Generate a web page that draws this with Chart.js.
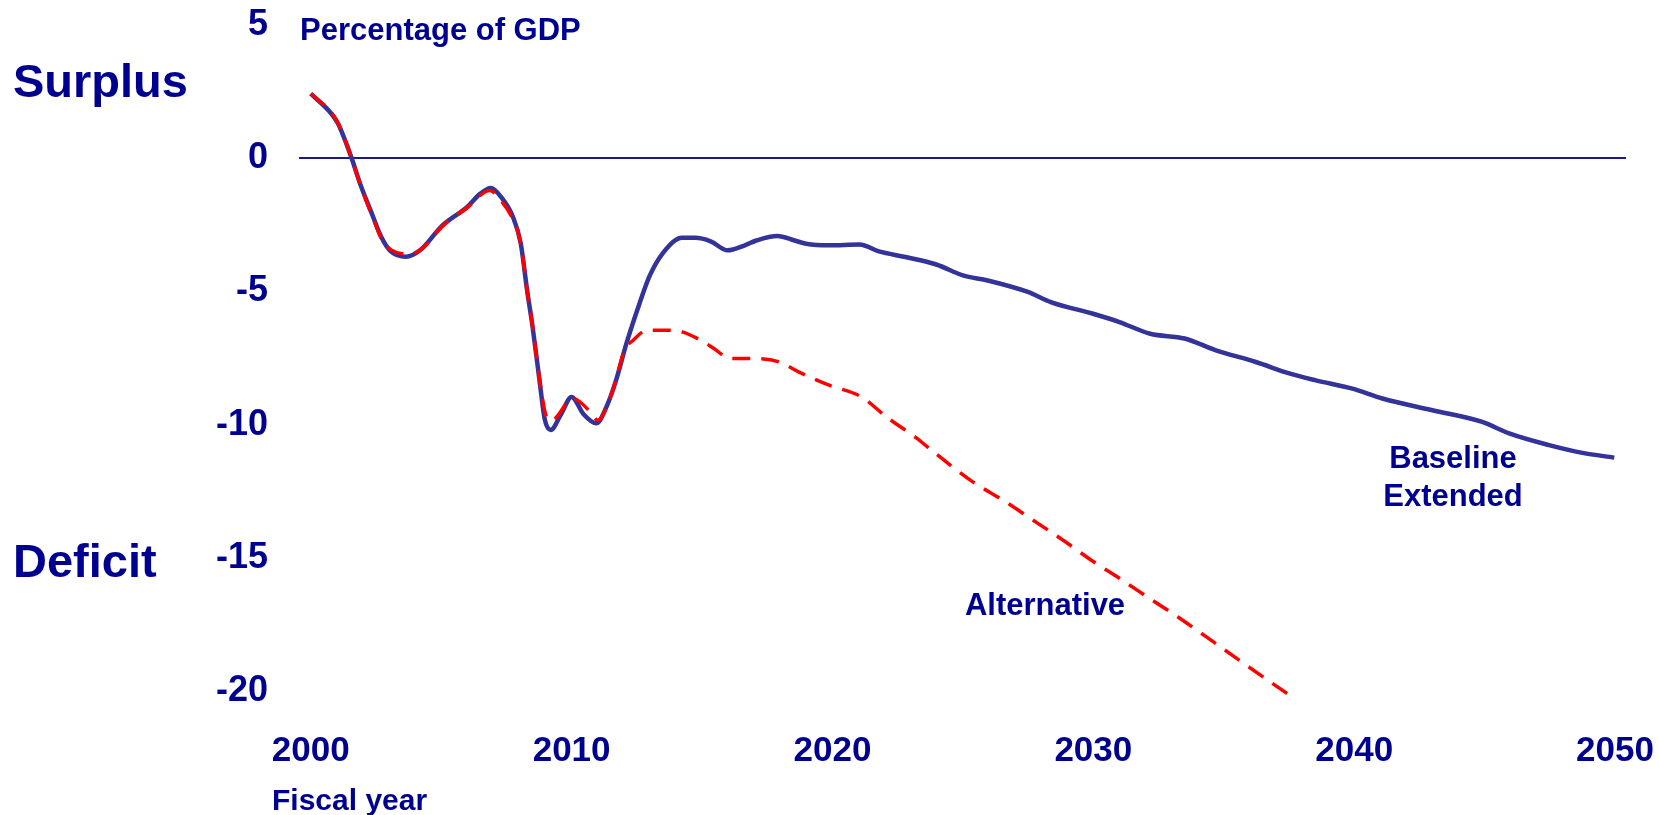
<!DOCTYPE html>
<html>
<head>
<meta charset="utf-8">
<script src="https://cdn.jsdelivr.net/npm/chart.js@4/dist/chart.umd.min.js"></script>
<style>
  html, body { margin: 0; padding: 0; background: #ffffff; }
  #wrap { position: relative; width: 1659px; height: 815px; }
</style>
</head>
<body>
<div id="wrap"><canvas id="deficitChart" width="1659" height="815"></canvas></div>
<script>
// fiscal years and % of GDP
var baselineYears = [2000, 2000.8, 2001.05, 2001.55, 2001.9, 2002.35, 2002.7, 2003.05, 2003.65, 2004.2,
  2005.05, 2006.0, 2006.5, 2006.9, 2007.3, 2007.75, 2008.05, 2008.3, 2008.5, 2008.77,
  2008.97, 2009.2, 2009.6, 2010.0, 2010.45, 2010.95, 2011.35, 2011.7, 2012.1, 2012.6,
  2013.0, 2013.5, 2014.23, 2014.74, 2015.33, 2015.98, 2016.64, 2017.08, 2017.89, 2018.55,
  2018.99, 2019.87, 2021.04, 2021.78, 2022.8, 2023.98, 2025.0, 2025.95, 2027.49, 2028.37,
  2029.99, 2031.0, 2032.18, 2033.5, 2034.7, 2036.23, 2037.51, 2038.53, 2039.93, 2041.08,
  2043.0, 2044.91, 2045.94, 2047.47, 2048.75, 2049.97];
var baselineValues = [2.42, 1.66, 1.29, 0.05, -0.98, -2.1, -2.95, -3.48, -3.7, -3.45,
  -2.52, -1.83, -1.33, -1.12, -1.46, -2.2, -3.2, -5.0, -6.3, -8.34,
  -9.8, -10.2, -9.6, -8.96, -9.6, -9.95, -9.3, -8.35, -6.96, -5.46,
  -4.4, -3.56, -2.99, -2.99, -3.12, -3.46, -3.27, -3.09, -2.92, -3.09,
  -3.21, -3.27, -3.24, -3.5, -3.71, -3.99, -4.4, -4.59, -5.02, -5.4,
  -5.84, -6.15, -6.59, -6.77, -7.21, -7.65, -8.08, -8.34, -8.65, -9.02,
  -9.46, -9.9, -10.33, -10.77, -11.06, -11.24];

var altYears = [2000, 2000.8, 2001.05, 2001.55, 2001.9, 2002.35, 2002.75, 2003.1, 2003.7, 2004.2,
  2005.05, 2006.0, 2006.86, 2007.3, 2007.75, 2008.05, 2008.3, 2008.5, 2008.77, 2009.0,
  2009.22, 2010.05, 2010.75, 2011.0, 2011.58, 2012.03, 2012.35, 2012.9, 2013.7, 2014.23,
  2014.96, 2015.47, 2016.06, 2017.08, 2017.97, 2018.7, 2019.87, 2021.11, 2022.07, 2023.24,
  2023.72, 2025.38, 2026.53, 2027.68, 2028.83, 2029.91, 2031.0, 2032.15, 2033.23, 2034.32,
  2035.4, 2036.49, 2037.51];
var altValues = [2.42, 1.7, 1.3, 0.05, -1.0, -2.15, -3.1, -3.45, -3.6, -3.45,
  -2.55, -1.85, -1.21, -1.6, -2.3, -3.2, -5.0, -6.3, -8.3, -9.6,
  -9.84, -9.02, -9.56, -9.84, -8.71, -7.2, -6.84, -6.46, -6.46, -6.52,
  -6.84, -7.15, -7.52, -7.52, -7.65, -8.02, -8.52, -8.96, -9.71, -10.52,
  -10.9, -12.15, -12.83, -13.58, -14.33, -15.08, -15.77, -16.52, -17.21, -17.96,
  -18.71, -19.46, -20.15];

var xTicks = [2000, 2010, 2020, 2030, 2040, 2050];
var yTicks = [5, 0, -5, -10, -15, -20];

function toPoints(xs, ys) {
  var pts = [];
  for (var i = 0; i < xs.length; i++) pts.push({ x: xs[i], y: ys[i] });
  return pts;
}

var navy = '#000090';
var FONT = '"Liberation Sans", Arial, sans-serif';

// free text on the canvas: side labels, unit note and series names
var textPlugin = {
  id: 'slideText',
  afterDraw: function (chart) {
    var c = chart.ctx;
    c.save();
    c.fillStyle = navy;
    c.textBaseline = 'alphabetic';
    c.textAlign = 'left';
    c.font = 'bold 47px ' + FONT;
    c.fillText('Surplus', 13, 97);
    c.fillText('Deficit', 13, 577);
    c.font = 'bold 31px ' + FONT;
    c.fillText('Percentage of GDP', 300, 40);
    c.font = 'bold 30px ' + FONT;
    c.fillText('Fiscal year', 272, 810);
    c.textAlign = 'center';
    c.font = 'bold 31px ' + FONT;
    c.fillText('Baseline', 1453, 468);
    c.fillText('Extended', 1453, 506);
    c.fillText('Alternative', 1045, 615);
    c.restore();
  }
};

// let the layout padding alone decide the plot edges
function noOverhang(scale) {
  scale.paddingTop = 0;
  scale.paddingBottom = 0;
  scale.paddingLeft = 0;
  scale.paddingRight = 0;
}

var ctx = document.getElementById('deficitChart');
var chart = new Chart(ctx, {
  type: 'line',
  data: {
    datasets: [
      {
        label: 'Alternative',
        data: toPoints(altYears, altValues),
        borderColor: '#ff0000',
        borderWidth: 3.5,
        borderDash: [18, 11],
        pointRadius: 0,
        fill: false,
        cubicInterpolationMode: 'monotone',
        clip: false,
        order: 0
      },
      {
        label: 'Baseline Extended',
        data: toPoints(baselineYears, baselineValues),
        borderColor: '#333399',
        borderWidth: 4.5,
        pointRadius: 0,
        fill: false,
        cubicInterpolationMode: 'monotone',
        order: 1
      }
    ]
  },
  options: {
    responsive: false,
    animation: false,
    layout: { padding: { top: 25, right: 33, bottom: 0, left: 0 } },
    plugins: {
      legend: { display: false },
      tooltip: { enabled: false }
    },
    scales: {
      x: {
        type: 'linear',
        min: 1999.55,
        max: 2050.42,
        afterBuildTicks: function (scale) {
          scale.ticks = xTicks.map(function (v) { return { value: v }; });
        },
        afterFit: function (scale) { scale.height = 124; noOverhang(scale); },
        grid: { display: false },
        border: { display: false },
        ticks: {
          padding: 31,
          color: navy,
          maxRotation: 0,
          autoSkip: false,
          font: { family: FONT, size: 35, weight: 'bold' },
          callback: function (v) { return String(v); }
        }
      },
      y: {
        min: -20,
        max: 5,
        afterBuildTicks: function (scale) {
          scale.ticks = yTicks.map(function (v) { return { value: v }; });
        },
        afterFit: function (scale) { scale.width = 299; noOverhang(scale); },
        border: { display: false },
        grid: {
          drawTicks: false,
          lineWidth: 2,
          color: function (c) { return c.tick && c.tick.value === 0 ? '#1a1a88' : 'rgba(0,0,0,0)'; }
        },
        ticks: {
          padding: 31,
          color: navy,
          font: { family: FONT, size: 36, weight: 'bold' }
        }
      }
    }
  },
  plugins: [textPlugin]
});
</script>
</body>
</html>
